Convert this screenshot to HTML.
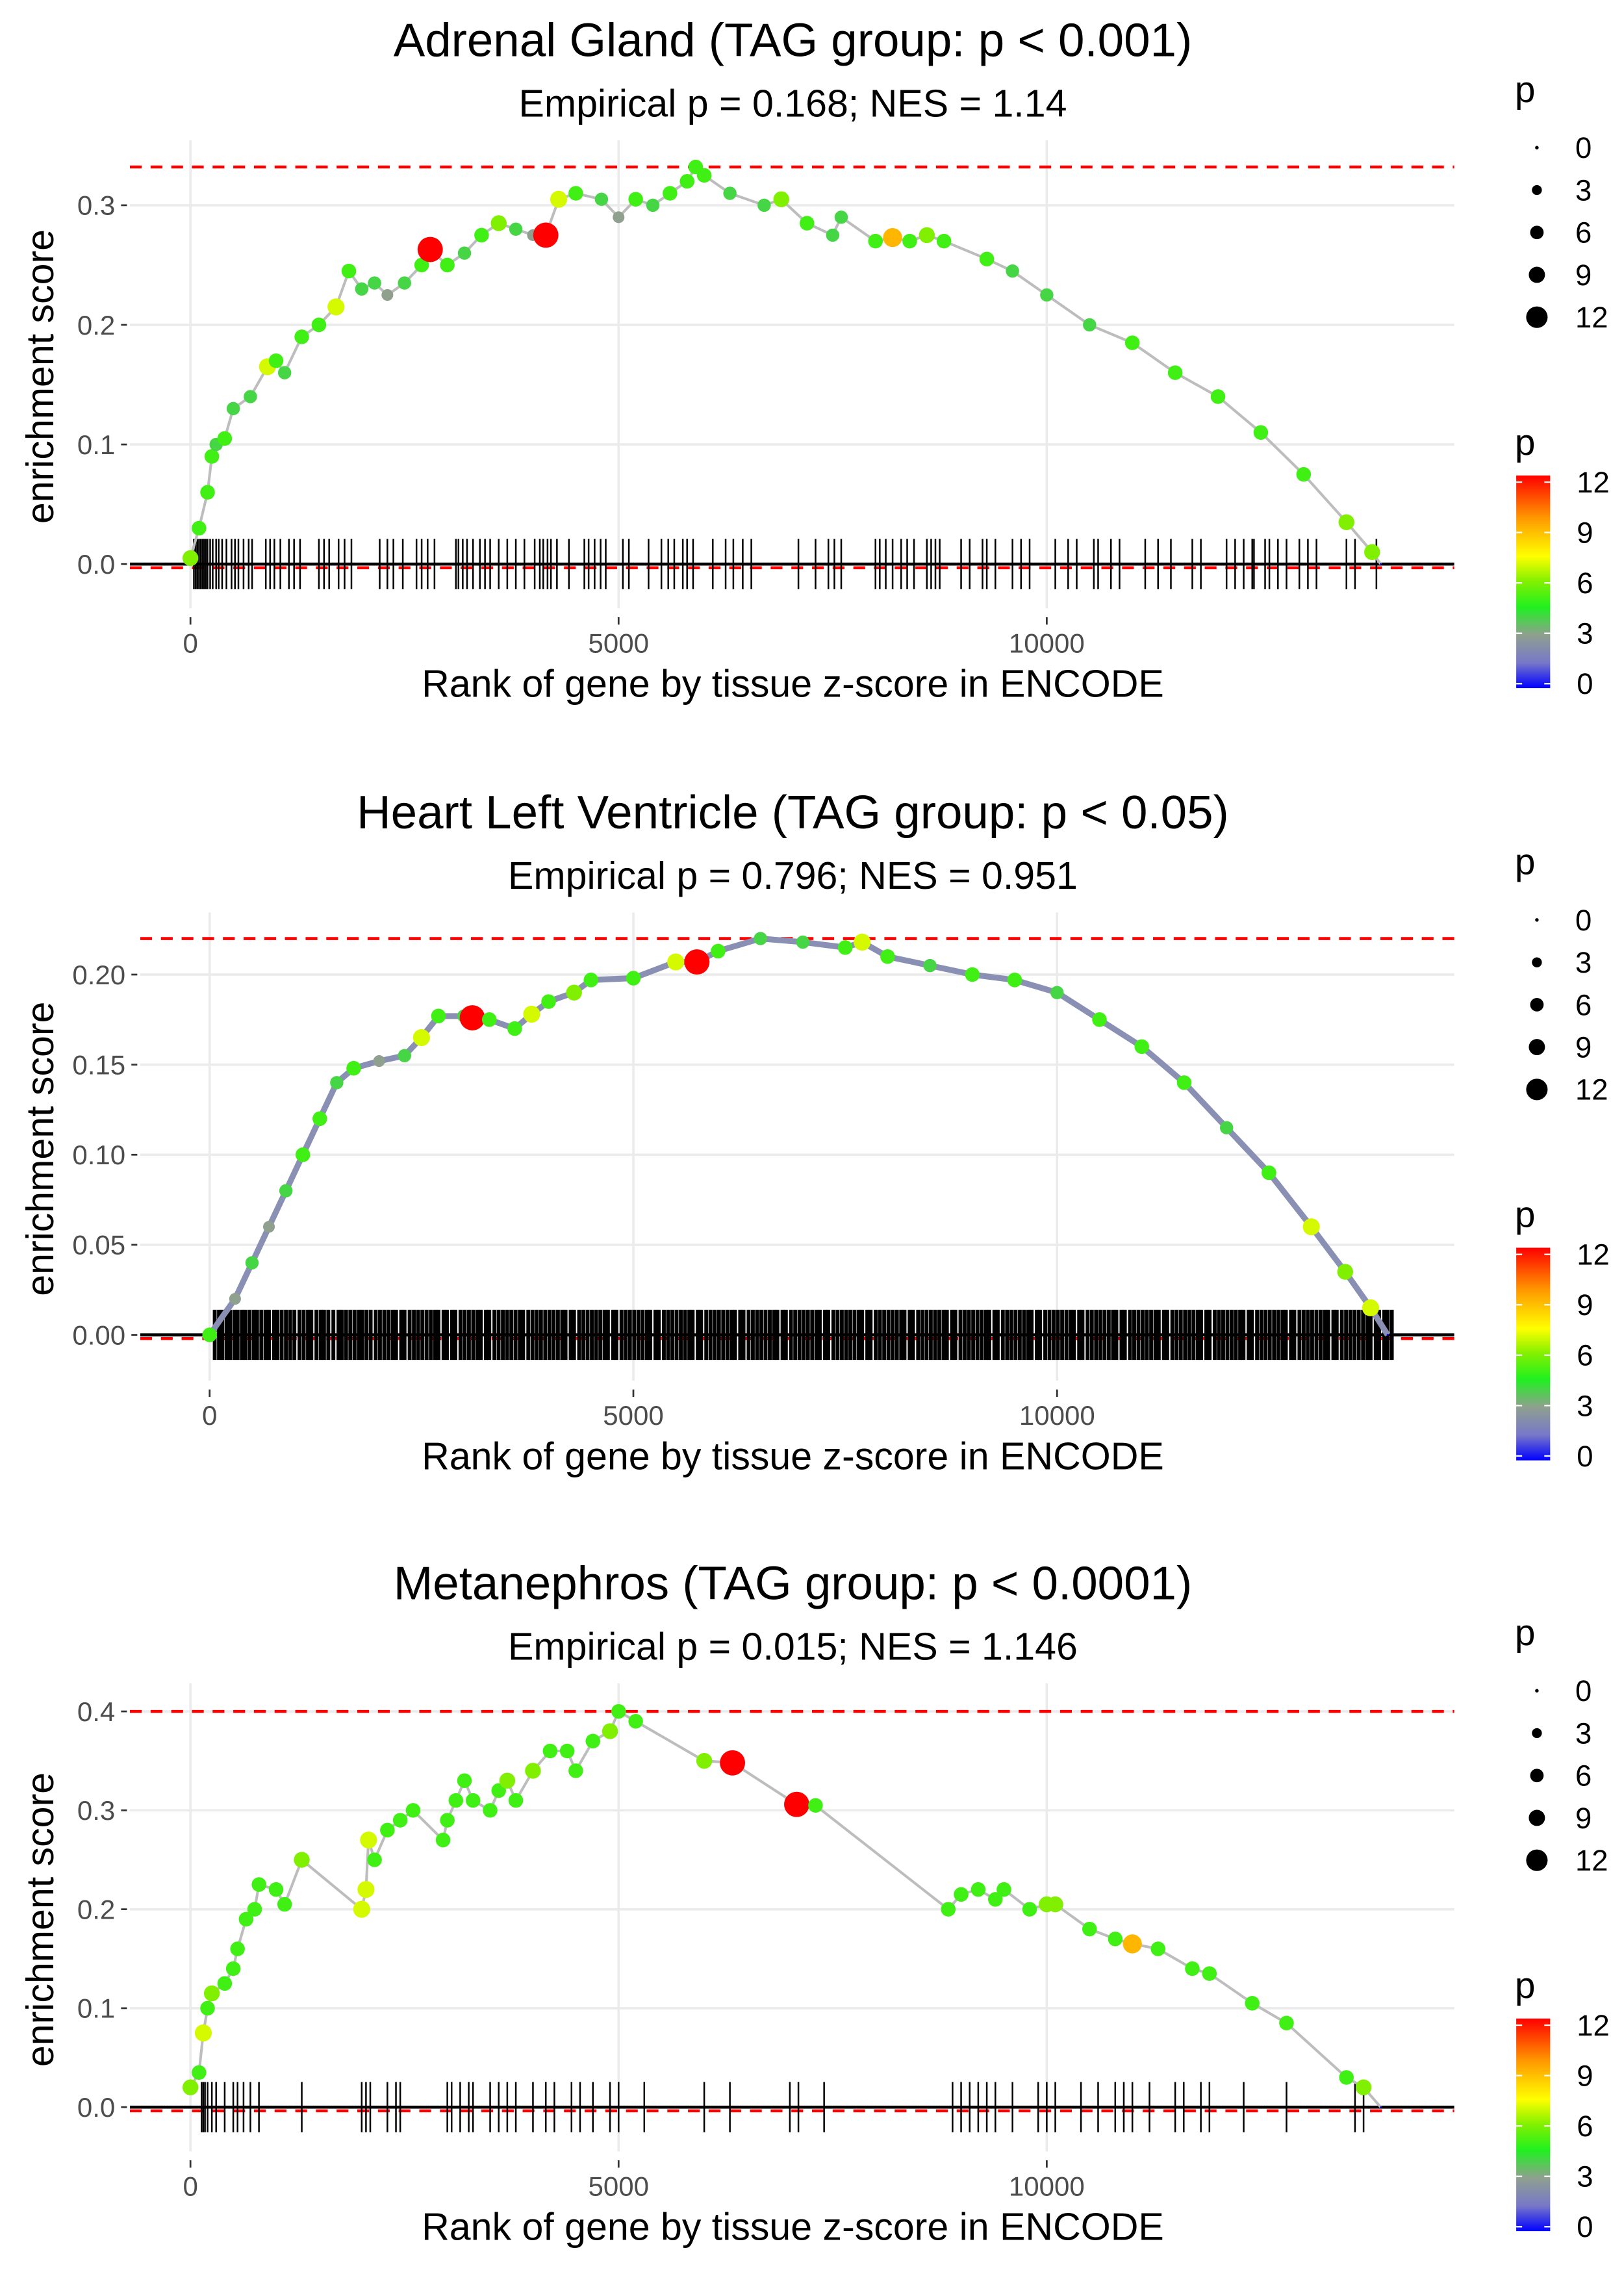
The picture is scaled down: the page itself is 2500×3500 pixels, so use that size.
<!DOCTYPE html>
<html><head><meta charset="utf-8"><style>
html,body{margin:0;padding:0;background:#fff}
svg{display:block}
text{font-family:"Liberation Sans",sans-serif}
</style></head><body>
<svg id="root" xmlns="http://www.w3.org/2000/svg" width="2500" height="3500" viewBox="0 0 1100 1540" preserveAspectRatio="none">
<defs>
<linearGradient id="cbar" x1="0" y1="1" x2="0" y2="0">
<stop offset="0" stop-color="#0000ff"/><stop offset="0.12" stop-color="#7878c8"/><stop offset="0.25" stop-color="#8fa08f"/><stop offset="0.38" stop-color="#20f020"/><stop offset="0.5" stop-color="#80f000"/><stop offset="0.62" stop-color="#ffff00"/><stop offset="0.8" stop-color="#ff9900"/><stop offset="1" stop-color="#ff0000"/>
</linearGradient>
</defs>
</svg>
<script>
// ---------- Panel 1 data: Adrenal Gland ----------
const p1Rank=[0,100,200,250,300,400,500,700,900,1000,1100,1300,1500,1700,1850,2000,2150,2300,2500,2700,2800,3000,3200,3400,3600,3800,4000,4150,4300,4500,4800,5000,5200,5400,5600,5800,5900,6000,6300,6700,6900,7200,7500,7600,8000,8200,8400,8600,8800,9300,9600,10000,10500,11000,11500,12000,12500,13000,13500,13800,13900];
const p1ES=[0.005,0.03,0.06,0.09,0.1,0.105,0.13,0.14,0.165,0.17,0.16,0.19,0.2,0.215,0.245,0.23,0.235,0.225,0.235,0.25,0.263,0.25,0.26,0.275,0.285,0.28,0.275,0.275,0.305,0.31,0.305,0.29,0.305,0.3,0.31,0.32,0.332,0.325,0.31,0.3,0.305,0.285,0.275,0.29,0.27,0.273,0.27,0.275,0.27,0.255,0.245,0.225,0.2,0.185,0.16,0.14,0.11,0.075,0.035,0.01,0];
const p1P=[6,5,5,5,4,5,4,4,7,5,4,5,5,7,5,4,4,3,4,5,12,5,4,5,6,4,3,12,7,5,4,3,5,4,5,5,5,5,4,4,6,5,4,4,5,9,5,6,5,5,4,4,4,5,5,5,5,5,6,6,0];
const p1Hits=[40,60,80,100,120,140,160,180,200,230,260,300,330,370,420,480,520,560,620,680,720,880,930,980,1050,1150,1210,1280,1500,1560,1620,1730,1800,1880,2210,2300,2370,2480,2640,2700,2770,2850,3100,3130,3180,3230,3300,3380,3440,3500,3600,3700,3800,3900,4020,4080,4120,4170,4210,4280,4420,4600,4650,4720,4790,4850,5050,5120,5350,5500,5580,5650,5750,5800,5870,6100,6250,6340,6450,6550,7100,7300,7450,7520,7600,8000,8050,8120,8200,8300,8370,8450,8600,8650,8700,8750,9000,9100,9250,9300,9400,9600,9700,9800,10100,10250,10350,10550,10600,10750,10850,11150,11300,11450,11700,11800,12100,12200,12300,12400,12420,12550,12600,12700,12800,12950,13050,13150,13500,13600,13850];

// ---------- Panel 2 data: Heart Left Ventricle ----------
const p2Rank=[0,300,500,700,900,1100,1300,1500,1700,2000,2300,2500,2700,3000,3100,3300,3600,3800,4000,4300,4500,5000,5500,5750,6000,6500,7000,7500,7700,8000,8500,9000,9500,10000,10500,11000,11500,12000,12500,13000,13400,13700,13900];
const p2ES=[0,0.02,0.04,0.06,0.08,0.1,0.12,0.14,0.148,0.152,0.155,0.165,0.177,0.177,0.176,0.175,0.17,0.178,0.185,0.19,0.197,0.198,0.207,0.207,0.213,0.22,0.218,0.215,0.218,0.21,0.205,0.2,0.197,0.19,0.175,0.16,0.14,0.115,0.09,0.06,0.035,0.015,0];
const p2P=[5,3,4,3,4,5,5,4,5,3,4,7,5,4,12,5,5,7,5,6,5,5,7,12,5,4,4,5,7,5,4,5,5,4,5,5,5,4,5,7,6,7,0];
const p2Hits=[60,110,150,200,240,290,330,380,420,470,520,560,610,660,700,760,800,850,900,950,1000,1060,1110,1160,1200,1260,1310,1350,1400,1460,1520,1560,1610,1660,1710,1760,1800,1850,1900,1960,2010,2060,2110,2160,2200,2260,2300,2360,2410,2460,2510,2560,2610,2660,2700,2760,2800,2860,2900,2960,3010,3060,3110,3160,3200,3260,3300,3360,3410,3460,3510,3560,3610,3660,3700,3760,3810,3860,3910,3960,4010,4060,4110,4160,4200,4260,4300,4360,4410,4460,4510,4560,4610,4660,4700,4760,4800,4860,4910,4960,5010,5060,5110,5160,5200,5260,5300,5360,5410,5460,5510,5560,5610,5660,5700,5760,5800,5860,5910,5960,6010,6060,6110,6160,6200,6260,6300,6360,6410,6460,6510,6560,6610,6660,6700,6760,6800,6860,6910,6960,7010,7060,7110,7160,7200,7260,7300,7360,7410,7460,7510,7560,7610,7660,7700,7760,7800,7860,7910,7960,8010,8060,8110,8160,8200,8260,8300,8360,8410,8460,8510,8560,8610,8660,8700,8760,8800,8860,8910,8960,9010,9060,9110,9160,9200,9260,9300,9360,9410,9460,9510,9560,9610,9660,9700,9760,9800,9860,9910,9960,10010,10060,10110,10160,10200,10260,10300,10360,10410,10460,10510,10560,10610,10660,10700,10760,10800,10860,10910,10960,11010,11060,11110,11160,11200,11260,11300,11360,11410,11460,11510,11560,11610,11660,11700,11760,11800,11860,11910,11960,12010,12060,12110,12160,12200,12260,12300,12360,12410,12460,12510,12560,12610,12660,12700,12760,12800,12860,12910,12960,13010,13060,13110,13160,13200,13260,13300,13360,13410,13460,13510,13560,13610,13660,13700,13760,13800,13860,13900,13950];

// ---------- Panel 3 data: Metanephros ----------
const p3Rank=[0,100,150,200,250,400,500,550,650,750,800,1000,1100,1300,2000,2050,2080,2150,2300,2450,2600,2950,3000,3100,3200,3300,3500,3600,3700,3800,4000,4200,4400,4500,4700,4900,5000,5200,6000,6330,7080,7300,8850,9000,9200,9400,9500,9800,10000,10100,10500,10800,11000,11300,11700,11900,12400,12800,13500,13700,13900];
const p3ES=[0.02,0.035,0.075,0.1,0.115,0.125,0.14,0.16,0.19,0.2,0.225,0.22,0.205,0.25,0.2,0.22,0.27,0.25,0.28,0.29,0.3,0.27,0.29,0.31,0.33,0.31,0.3,0.32,0.33,0.31,0.34,0.36,0.36,0.34,0.37,0.38,0.4,0.39,0.35,0.348,0.306,0.305,0.2,0.215,0.22,0.21,0.22,0.2,0.205,0.205,0.18,0.17,0.165,0.16,0.14,0.135,0.105,0.085,0.03,0.02,0];
const p3P=[6,5,7,5,6,5,5,5,5,5,5,5,5,6,7,7,7,5,5,5,5,5,5,5,5,5,5,5,6,5,6,5,5,5,5,6,5,5,6,12,12,5,5,5,5,5,5,5,6,6,5,5,9,5,5,5,5,5,5,6,0];
const p3Hits=[130,150,170,200,250,300,400,500,550,620,700,800,1300,2000,2050,2100,2300,2400,2450,3000,3050,3150,3250,3300,3500,3600,3700,3800,4000,4150,4250,4450,4550,4700,4900,5000,5300,6000,6300,7000,7100,7400,8900,9000,9100,9200,9300,9400,9600,9900,10000,10100,10400,10600,10800,10900,11000,11200,11500,11600,11800,11900,12300,12800,13600,13700];

// x ticks / size legend / colour legend
const xTicks=[0,5000,10000];
const sizeLegend=[0,3,6,9,12];
const colorLegend=[12,9,6,3,0];

const panels=[
 {name:'adrenal-gland',dy:0,title:'Adrenal Gland (TAG group: p < 0.001)',sub:'Empirical p = 0.168; NES = 1.14',
  x0:129,xk:290/5000,y0:382,yk:810,left:88,yTicks:[0,0.1,0.2,0.3],yFmt:1,max:0.332,rank:p1Rank,es:p1ES,p:p1P,hits:p1Hits,lineCol:'#bdbdbd'},
 {name:'heart-left-ventricle',dy:523,title:'Heart Left Ventricle (TAG group: p < 0.05)',sub:'Empirical p = 0.796; NES = 0.951',
  x0:142,xk:287/5000,y0:904-523,yk:1220,left:95,yTicks:[0,0.05,0.1,0.15,0.2],yFmt:2,max:0.22,rank:p2Rank,es:p2ES,p:p2P,hits:p2Hits,lineCol:'#8a90b4'},
 {name:'metanephros',dy:1045,title:'Metanephros (TAG group: p < 0.0001)',sub:'Empirical p = 0.015; NES = 1.146',
  x0:129,xk:290/5000,y0:1427-1045,yk:670,left:88,yTicks:[0,0.1,0.2,0.3,0.4],yFmt:1,max:0.4,rank:p3Rank,es:p3ES,p:p3P,hits:p3Hits,lineCol:'#bdbdbd'}
];

const NS='http://www.w3.org/2000/svg';
const root=document.getElementById('root');
function mk(tag,attrs,parent,txt){const e=document.createElementNS(NS,tag);for(const k in attrs)e.setAttribute(k,attrs[k]);if(txt!==undefined)e.textContent=txt;parent.appendChild(e);return e;}
function pColor(p){
  const stops=[[0,[0,0,255]],[1.5,[120,120,200]],[3,[143,160,143]],[4.5,[32,240,32]],[6,[128,240,0]],[7.5,[255,255,0]],[9.6,[255,153,0]],[12,[255,0,0]]];
  for(let i=1;i<stops.length;i++){if(p<=stops[i][0]){const a=stops[i-1],b=stops[i];const t=(p-a[0])/(b[0]-a[0]);const c=a[1].map((v,j)=>Math.round(v+(b[1][j]-v)*t));return 'rgb('+c.join(',')+')';}}
  return 'rgb(255,0,0)';
}
function pRad(p){return 0.6+Math.sqrt(p)*1.95+(p>=11?1.2:0);}

panels.forEach(P=>{
  const g=mk('g',{transform:'translate(0,'+P.dy+')'},root);
  
  
  const X=r=>P.x0+r*P.xk, Y=v=>P.y0-v*P.yk;
  const right=985, top=95, bottom=418;
  const t=mk('text',{x:537,y:38,'text-anchor':'middle','font-size':32,fill:'#000'},g,P.title);
  
  
  const s=mk('text',{x:537,y:79,'text-anchor':'middle','font-size':26,fill:'#000'},g,P.sub);
  
  
  P.yTicks.forEach(v=>{
    const l=mk('line',{x1:P.left,x2:right,y1:Y(v),y2:Y(v),stroke:'#ebebeb','stroke-width':1.6},g);
    
    
    const tl=mk('text',{x:P.left-10,y:Y(v)+6.5,'text-anchor':'end','font-size':18.5,fill:'#4d4d4d'},g,v.toFixed(P.yFmt));
    
    
    mk('line',{x1:P.left-6,x2:P.left-2,y1:Y(v),y2:Y(v),stroke:'#333','stroke-width':1.2},g);
  });
  xTicks.forEach(v=>{
    const l=mk('line',{x1:X(v),x2:X(v),y1:top,y2:bottom-6,stroke:'#ebebeb','stroke-width':1.6},g);
    
    
    mk('line',{x1:X(v),x2:X(v),y1:bottom,y2:bottom+5,stroke:'#333','stroke-width':1.2},g);
    const tl=mk('text',{x:X(v),y:442,'text-anchor':'middle','font-size':18.5,fill:'#4d4d4d'},g,String(v));
    
    
  });
  const d1=mk('line',{x1:P.left,x2:right,y1:Y(P.max),y2:Y(P.max),stroke:'#ff0000','stroke-width':2,'stroke-dasharray':'8,6'},g);
  
  
  const d2=mk('line',{x1:P.left,x2:right,y1:Y(0)+2.5,y2:Y(0)+2.5,stroke:'#ff0000','stroke-width':2,'stroke-dasharray':'8,6'},g);
  
  
  const rug=mk('g',{},g);
  
  
  P.hits.forEach(h=>{
    const l=mk('line',{x1:X(h),x2:X(h),y1:Y(0)-17,y2:Y(0)+17,stroke:'#000','stroke-width':P.hits.length>200?2.6:1.1},rug);
    
    
  });
  const zl=mk('line',{x1:P.left,x2:right,y1:Y(0),y2:Y(0),stroke:'#000','stroke-width':2},g);
  
  
  const pts=P.rank.map((r,i)=>X(r).toFixed(1)+','+Y(P.es[i]).toFixed(1)).join(' ');
  const pl=mk('polyline',{points:pts,fill:'none',stroke:P.lineCol,'stroke-width':P.name==='heart-left-ventricle'?4:1.8},g);
  
  
  P.rank.forEach((r,i)=>{
    const c=mk('circle',{cx:X(r),cy:Y(P.es[i]),r:pRad(P.p[i]),fill:pColor(P.p[i])},g);
    
    
  });
  const xt=mk('text',{x:537,y:472,'text-anchor':'middle','font-size':26,fill:'#000'},g,'Rank of gene by tissue z-score in ENCODE');
  
  
  const yt=mk('text',{x:0,y:0,'text-anchor':'middle','font-size':26,fill:'#000',transform:'translate(36,255) rotate(-90)'},g,'enrichment score');
  
  
  const sl=mk('g',{},g);
  
  
  mk('text',{x:1026,y:69,'font-size':25,fill:'#000'},sl,'p');
  sizeLegend.forEach((v,i)=>{
    const yy=100+i*28.7;
    const c=mk('circle',{cx:1041,cy:yy,r:Math.max(pRad(v)*0.85,1.2),fill:'#000'},sl);
    
    
    const tx=mk('text',{x:1067,y:yy+7,'font-size':20,fill:'#000'},sl,String(v));
    
    
  });
  const cl=mk('g',{},g);
  
  
  mk('text',{x:1026,y:308,'font-size':25,fill:'#000'},cl,'p');
  const bar=mk('rect',{x:1027,y:322,width:23,height:144,fill:'url(#cbar)'},cl);
  
  
  colorLegend.forEach(v=>{
    const yy=466-3-(v/12)*136.5;
    mk('line',{x1:1027,x2:1031,y1:yy,y2:yy,stroke:'#fff','stroke-width':1},cl);
    mk('line',{x1:1046,x2:1050,y1:yy,y2:yy,stroke:'#fff','stroke-width':1},cl);
    const tx=mk('text',{x:1068,y:yy+7,'font-size':20,fill:'#000'},cl,String(v));
    
    
  });
});
</script>
</body></html>
